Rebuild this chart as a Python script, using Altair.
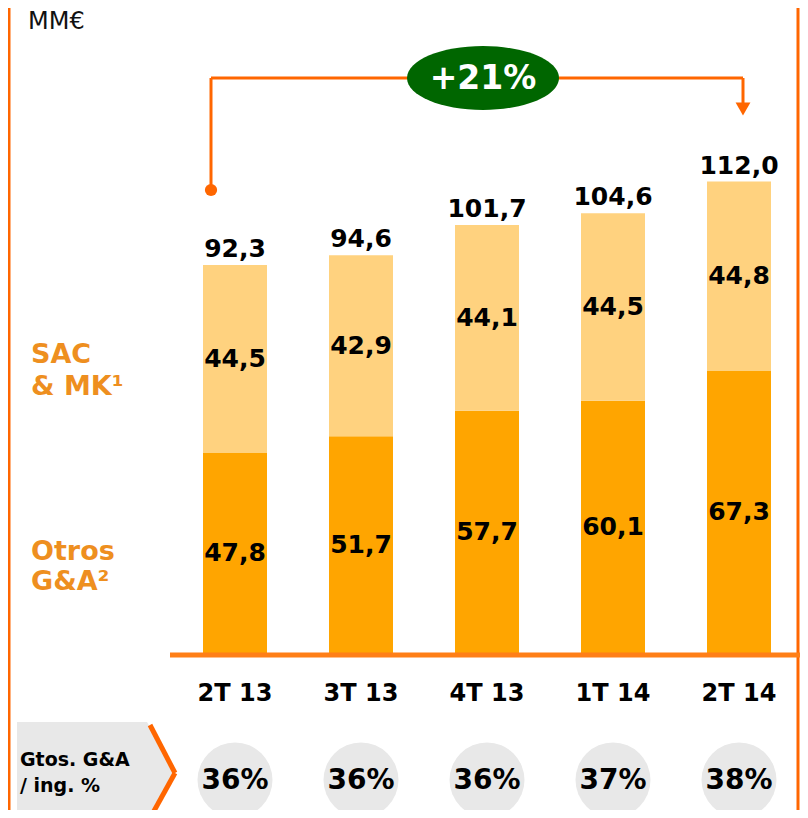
import altair as alt
import pandas as pd

# ---- data ----
cats = ["2T 13", "3T 13", "4T 13", "1T 14", "2T 14"]
otros = [47.8, 51.7, 57.7, 60.1, 67.3]          # Otros G&A (bottom segment)
sac = [44.5, 42.9, 44.1, 44.5, 44.8]            # SAC & MK (top segment)
totals = [92.3, 94.6, 101.7, 104.6, 112.0]
ratio = [36, 36, 36, 37, 38]                    # Gtos. G&A / ing. %
growth = "+21%"
unit_label = "MM€"
series_names = ["Otros G&A", "SAC & MK"]
row_label = ["Gtos. G&A", "/ ing. %"]

FONT = "DejaVu Sans"
ORANGE = "#FF6600"
C_LOW = "#FFA500"
C_HIGH = "#FFD27F"
LBL = "#EE8F1F"


def fmt(v):
    return f"{v:.1f}".replace(".", ",")


rows = []
for c, lo, hi in zip(cats, otros, sac):
    rows.append({"cat": c, "series": series_names[0], "value": lo, "mid": lo / 2, "order": 0, "label": fmt(lo)})
    rows.append({"cat": c, "series": series_names[1], "value": hi, "mid": lo + hi / 2, "order": 1, "label": fmt(hi)})
seg = pd.DataFrame(rows)
tot = pd.DataFrame({"cat": cats, "total": totals, "label": [fmt(t) for t in totals]})
pct = pd.DataFrame({"cat": cats, "label": [f"{r}%" for r in ratio]})

W, H = 792, 802
xscale = alt.Scale(domain=cats, range=[164, 794], paddingInner=0, paddingOuter=0)
yscale = alt.Scale(domain=[0, 150], range=[646, 646 - 150 * 4.214], nice=False, zero=True)
X = alt.X("cat:N", sort=cats, scale=xscale, axis=None)

one = pd.DataFrame({"a": [0]})


def rule(x, y, x2, y2, color=ORANGE, w=3):
    return alt.Chart(one).mark_rule(color=color, strokeWidth=w, strokeCap="butt").encode(
        x=alt.value(x), y=alt.value(y), x2=alt.value(x2), y2=alt.value(y2))


def text(t, x, y, size, color="black", bold=True, align="left", base="middle"):
    return alt.Chart(pd.DataFrame({"t": [t]})).mark_text(
        font=FONT, fontSize=size, fontWeight="bold" if bold else "normal",
        color=color, align=align, baseline=base).encode(
        x=alt.value(x), y=alt.value(y), text="t:N")


bars = alt.Chart(seg).mark_bar(width=64).encode(
    x=X,
    y=alt.Y("value:Q", stack="zero", scale=yscale, axis=None),
    color=alt.Color("series:N", scale=alt.Scale(domain=series_names, range=[C_LOW, C_HIGH]), legend=None),
    order=alt.Order("order:Q"),
)

seg_text = alt.Chart(seg).mark_text(font=FONT, fontSize=25, fontWeight="bold", color="black",
                                    baseline="middle").encode(
    x=X, y=alt.Y("mid:Q", scale=yscale, axis=None), text="label:N")

tot_text = alt.Chart(tot).mark_text(font=FONT, fontSize=25, fontWeight="bold", color="black",
                                    baseline="alphabetic", dy=-8).encode(
    x=X, y=alt.Y("total:Q", scale=yscale, axis=None), text="label:N")

cat_text = alt.Chart(tot).mark_text(font=FONT, fontSize=24, fontWeight="bold", color="black",
                                    baseline="middle").encode(
    x=X, y=alt.value(686), text="cat:N")

circles = alt.Chart(pct).mark_point(shape="circle", filled=True, size=5625, color="#E8E8E8", opacity=1).encode(
    x=X, y=alt.value(772))
pct_text = alt.Chart(pct).mark_text(font=FONT, fontSize=28, fontWeight="bold", color="black",
                                    baseline="middle").encode(
    x=X, y=alt.value(773), text="label:N")

# bottom-left pentagon label
pent_path = "M -1 -1 L 0.646 -1 L 1 -0.354 L 0.646 0.3 L -1 0.3 Z"
pent = alt.Chart(one).mark_point(shape=pent_path, filled=True, size=158 * 158, color="#E8E8E8", opacity=1).encode(
    x=alt.value(88), y=alt.value(793))

# green ellipse
ell_path = "M -1 0 A 1 0.42 0 1 0 1 0 A 1 0.42 0 1 0 -1 0 Z"
ell = alt.Chart(one).mark_point(shape=ell_path, filled=True, size=152 * 152, color="#006600", opacity=1).encode(
    x=alt.value(475), y=alt.value(70))

dot = alt.Chart(one).mark_point(shape="circle", filled=True, size=150, color=ORANGE, opacity=1).encode(
    x=alt.value(203), y=alt.value(182))
head = alt.Chart(one).mark_point(shape="triangle-down", filled=True, size=220, color=ORANGE, opacity=1).encode(
    x=alt.value(735), y=alt.value(101))

layers = [
    rule(1, 0, 1, H, w=3),
    rule(790, 0, 790, H, w=3),
    bars,
    rule(162, 647, 792, 647, color="#FF7F17", w=5),
    seg_text, tot_text, cat_text,
    rule(203, 182, 203, 70), rule(203, 70, 735, 70), rule(735, 70, 735, 96),
    dot, head, ell,
    text(growth, 475, 71, 33, color="white", align="center"),
    text(unit_label, 20, 14, 24, color="#111111", bold=False),
    text("SAC", 23, 347, 27, color=LBL), text("& MK¹", 23, 379, 27, color=LBL),
    text("Otros", 23, 544, 27, color=LBL), text("G&A²", 23, 574, 27, color=LBL),
    pent,
    rule(142, 717, 167, 765, w=5), rule(167, 765, 141, 812, w=5),
    text(row_label[0], 12, 752, 19), text(row_label[1], 12, 778, 19),
    circles, pct_text,
]

chart = alt.layer(*layers).properties(
    width=W, height=H, padding=0, autosize=alt.AutoSizeParams(type="none")
).configure_view(strokeWidth=0)

chart.save("out.html", embed_options={"renderer": "svg", "actions": False})
